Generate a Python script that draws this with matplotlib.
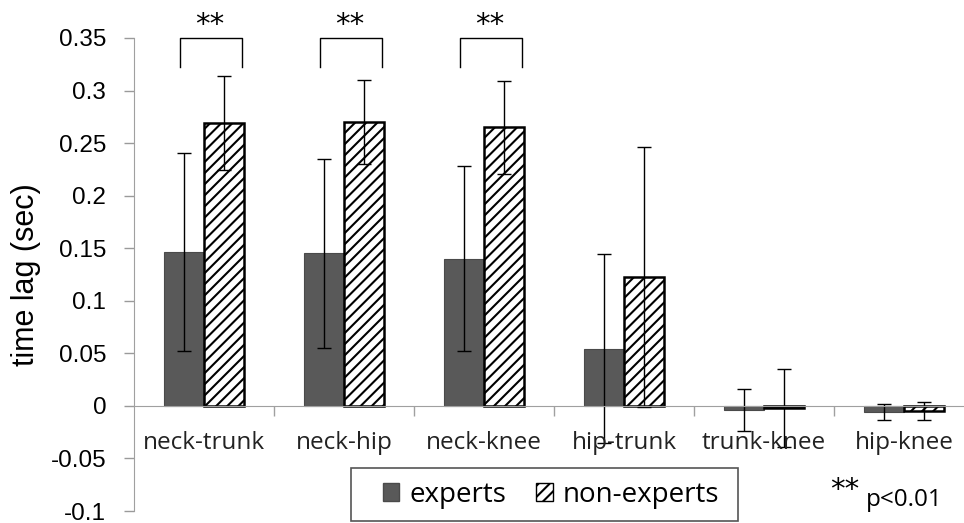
import matplotlib.pyplot as plt
from matplotlib.patches import Patch, Rectangle
import numpy as np

categories = ['neck-trunk', 'neck-hip', 'neck-knee', 'hip-trunk', 'trunk-knee', 'hip-knee']
experts = [0.1465, 0.145, 0.140, 0.0545, -0.004, -0.0057]
experts_err = [0.094, 0.090, 0.088, 0.090, 0.020, 0.0075]
non_experts = [0.269, 0.270, 0.265, 0.1225, -0.002, -0.005]
non_experts_err = [0.045, 0.040, 0.044, 0.124, 0.037, 0.0085]
significant = [0, 1, 2]

plt.rcParams['hatch.linewidth'] = 1.5

W, H = 964, 523
fig = plt.figure(figsize=(W / 100, H / 100), dpi=100)
ax = fig.add_axes([134 / W, 1 - 511 / H, 840 / W, 473 / H])

x = np.arange(len(categories))
w = 0.286
ax.bar(x - w / 2, experts, w, color='#595959', edgecolor='#4a4a4a', linewidth=0.8,
       yerr=experts_err, error_kw=dict(ecolor='black', elinewidth=1, capsize=5, capthick=1))
ax.bar(x + w / 2, non_experts, w, color='white', edgecolor='black', linewidth=1.8, hatch='///',
       yerr=non_experts_err, error_kw=dict(ecolor='black', elinewidth=1, capsize=5, capthick=1))

ax.set_xlim(-0.5, 5.5)
ax.set_ylim(-0.1, 0.35)
ax.set_yticks(np.arange(-0.1, 0.351, 0.05))
ax.set_yticklabels(['-0.1', '-0.05', '0', '0.05', '0.1', '0.15', '0.2', '0.25', '0.3', '0.35'],
                   family='Liberation Sans', fontsize=17.5)
ax.tick_params(axis='y', direction='out', length=7, width=1, color='#9a9a9a', pad=13)

# x axis drawn at zero with ticks between categories
ax.spines['bottom'].set_position(('data', 0))
ax.spines['bottom'].set_color('#a0a0a0')
ax.spines['left'].set_color('#a0a0a0')
ax.spines['top'].set_visible(False)
ax.spines['right'].set_visible(False)
ax.set_xticks(x[:-1] + 0.5)
ax.set_xticklabels([])
ax.tick_params(axis='x', direction='out', length=7, width=1, color='#a0a0a0')

for i, c in enumerate(categories):
    ax.text(i, -0.035, c, ha='center', va='center', fontsize=17.5, family='Open Sans', color='#222222')

ax.set_ylabel('time lag (sec)', family='Liberation Sans', fontsize=22)
ax.yaxis.set_label_coords((41 - 134) / 840, 0.5)

# significance brackets
for i in significant:
    xl, xr = i - 0.17, i + 0.27
    ax.plot([xl, xl, xr, xr], [0.3225, 0.35, 0.35, 0.3225], color='black', lw=1, clip_on=False)
    ax.text(i + 0.04, 0.362, '**', ha='center', va='center', fontsize=21, family='DejaVu Sans', clip_on=False)

# legend: frame drawn separately so it can be wider than its content
fig.patches.append(Rectangle((351 / W, 1 - 521 / H), 387 / W, 53 / H, transform=fig.transFigure,
                             facecolor='white', edgecolor='#555555', linewidth=1.2, zorder=3))
handles = [Patch(facecolor='#595959', edgecolor='#4a4a4a', label='experts'),
           Patch(facecolor='white', edgecolor='black', hatch='///', label='non-experts')]
leg = fig.legend(handles=handles, loc='center', bbox_to_anchor=(551 / W, 1 - 495 / H), ncol=2,
                 frameon=False, prop={'family': 'Open Sans', 'size': 20},
                 handlelength=0.6, handleheight=0.6, handletextpad=0.35, columnspacing=1.1,
                 borderpad=0, borderaxespad=0)
leg.set_zorder(4)

fig.text(830 / W, 1 - 490 / H, '**', fontsize=21, va='center', ha='left', family='DejaVu Sans')
fig.text(866 / W, 1 - 500 / H, 'p<0.01', fontsize=17.5, va='center', ha='left', family='Open Sans')

fig.savefig('out.png', dpi=100)
